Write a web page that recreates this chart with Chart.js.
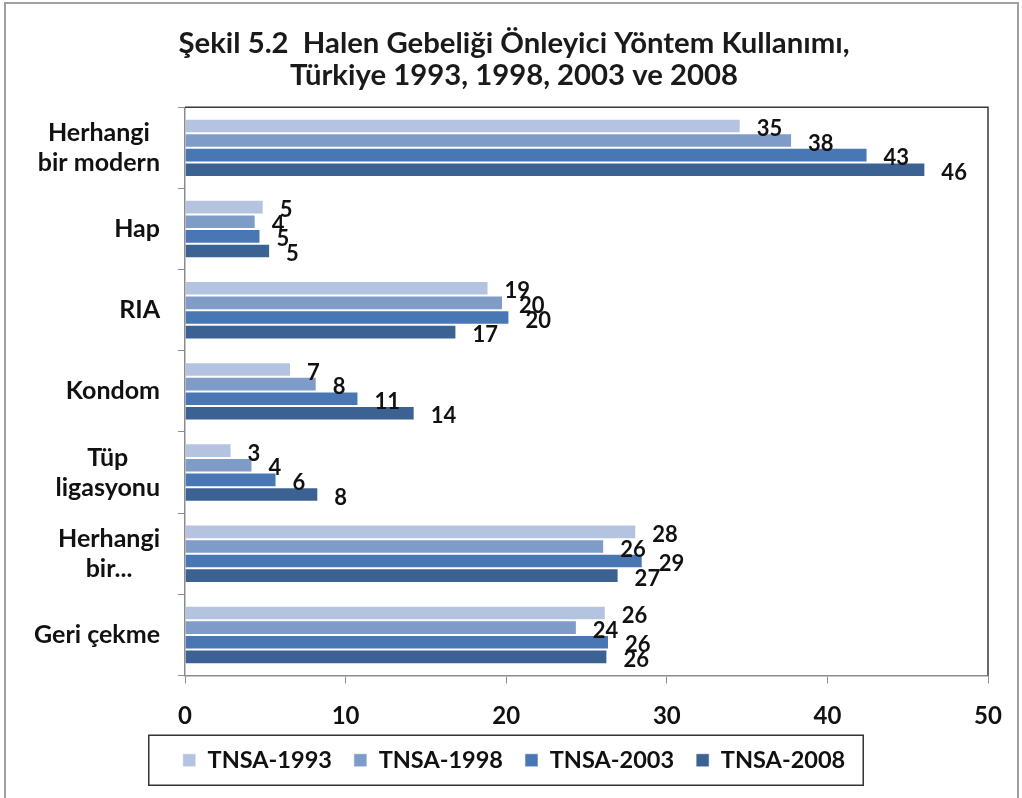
<!DOCTYPE html>
<html>
<head>
<meta charset="utf-8">
<script src="https://cdn.jsdelivr.net/npm/chart.js@4.4.1/dist/chart.umd.min.js"></script>
<style>
  html, body { margin: 0; padding: 0; background: #fff; }
  #wrap { position: relative; width: 1022px; height: 798px; }
</style>
</head>
<body>
<div id="wrap"><canvas id="chart"></canvas></div>
<script>
// categories (y axis) and series
const categories = [["Herhangi", "bir modern"], "Hap", "RIA", "Kondom", ["Tüp", "ligasyonu"], ["Herhangi", "bir..."], "Geri çekme"];
const seriesNames = ["TNSA-1993", "TNSA-1998", "TNSA-2003", "TNSA-2008"];
const tnsa1993 = [34.6, 4.9, 18.9, 6.6, 2.9, 28.1, 26.2];
const tnsa1998 = [37.8, 4.4, 19.8, 8.2, 4.2, 26.1, 24.4];
const tnsa2003 = [42.5, 4.7, 20.2, 10.8, 5.7, 28.5, 26.4];
const tnsa2008 = [46.1, 5.3, 16.9, 14.3, 8.3, 27.0, 26.3];
const xTicks = [0, 10, 20, 30, 40, 50];
const titleLines = ["Şekil 5.2  Halen Gebeliği Önleyici Yöntem Kullanımı,", "Türkiye 1993, 1998, 2003 ve 2008"];

const seriesColors = ['#B4C4E0', '#7F9CC9', '#4977B4', '#3C6294'];
const FONT = 'Lato, "Open Sans", sans-serif';

// value labels at the end of each bar (rounded like in the source)
const barLabels = {
  id: 'barLabels',
  afterDatasetsDraw(chart) {
    const ctx = chart.ctx;
    ctx.save();
    ctx.font = 'bold 22px ' + FONT;
    ctx.fillStyle = '#111';
    ctx.textAlign = 'left';
    ctx.textBaseline = 'middle';
    chart.data.datasets.forEach((ds, i) => {
      chart.getDatasetMeta(i).data.forEach((bar, j) => {
        ctx.fillText(String(Math.round(ds.data[j])), bar.x + 16, bar.y + 3);
      });
    });
    ctx.restore();
  }
};

// category labels: block right-aligned to the axis, lines centred in the block (Excel style)
const categoryLabels = {
  id: 'categoryLabels',
  afterDraw(chart) {
    const ctx = chart.ctx;
    const y = chart.scales.y;
    const right = chart.chartArea.left - 25;
    ctx.save();
    ctx.font = 'bold 25px ' + FONT;
    ctx.fillStyle = '#111';
    ctx.textAlign = 'center';
    ctx.textBaseline = 'middle';
    categories.forEach((lab, i) => {
      const lines = Array.isArray(lab) ? lab : [lab];
      const w = Math.max(...lines.map(l => ctx.measureText(l).width));
      const cy = y.getPixelForValue(i);
      lines.forEach((l, k) => {
        ctx.fillText(l, right - w / 2, cy + (k - (lines.length - 1) / 2) * 30);
      });
    });
    ctx.restore();
  }
};

// outer frame, plot box (top/right) and the box round the legend
const frames = {
  id: 'frames',
  beforeDraw(chart) {
    const ctx = chart.ctx;
    ctx.save();
    ctx.strokeStyle = '#a0a0a0';
    ctx.lineWidth = 2;
    ctx.strokeRect(5, 3, 1013, 830);
    ctx.restore();
  },
  afterDraw(chart) {
    const ctx = chart.ctx;
    const a = chart.chartArea;
    ctx.save();
    ctx.strokeStyle = '#3a3a3a';
    ctx.lineWidth = 1.5;
    ctx.beginPath();
    ctx.moveTo(a.left, a.top);
    ctx.lineTo(a.right, a.top);
    ctx.lineTo(a.right, a.bottom);
    ctx.stroke();

    const hb = chart.legend.legendHitBoxes;
    if (hb && hb.length) {
      const first = hb[0], last = hb[hb.length - 1];
      const cy = first.top + first.height / 2;
      const left = first.left - 34;
      const right = last.left + last.width + 18;
      ctx.strokeStyle = '#333';
      ctx.lineWidth = 1.5;
      ctx.strokeRect(left, cy - 25, right - left, 50);
    }
    ctx.restore();
  }
};

const datasets = [tnsa1993, tnsa1998, tnsa2003, tnsa2008].map((vals, i) => ({
  label: seriesNames[i],
  data: vals,
  backgroundColor: seriesColors[i],
  borderColor: 'rgba(255,255,255,0.55)',
  borderWidth: 1,
  categoryPercentage: 0.72,
  barPercentage: 1.0
}));

new Chart(document.getElementById('chart'), {
  type: 'bar',
  data: { labels: categories, datasets },
  plugins: [barLabels, categoryLabels, frames],
  options: {
    indexAxis: 'y',
    responsive: true,
    maintainAspectRatio: false,
    animation: false,
    layout: { padding: { left: 40, right: 34, top: 0, bottom: 16 } },
    plugins: {
      title: {
        display: true,
        text: titleLines,
        color: '#1a1a1a',
        font: { family: FONT, size: 29.3, weight: 'bold', lineHeight: 1.08 },
        padding: { top: 28, bottom: 16 }
      },
      legend: {
        position: 'bottom',
        labels: {
          boxWidth: 13,
          boxHeight: 13,
          padding: 22,
          color: '#111',
          font: { family: FONT, size: 23.5, weight: 'bold' }
        }
      },
      tooltip: { enabled: false }
    },
    scales: {
      x: {
        min: 0,
        max: 50,
        afterBuildTicks: (scale) => { scale.ticks = xTicks.map(v => ({ value: v })); },
        afterFit: (scale) => { scale.height = 51; },
        grid: { drawOnChartArea: false, drawTicks: true, tickLength: 8, color: '#8c8c8c' },
        border: { color: '#8c8c8c', width: 1.5 },
        ticks: {
          color: '#111',
          padding: 18,
          font: { family: FONT, size: 24, weight: 'bold' }
        }
      },
      y: {
        afterFit: (scale) => { scale.width = 145; },
        grid: { drawOnChartArea: false, drawTicks: true, tickLength: 7, color: '#8c8c8c', offset: true },
        border: { color: '#8c8c8c', width: 1.5 },
        ticks: { display: false }
      }
    }
  }
});
</script>
</body>
</html>
